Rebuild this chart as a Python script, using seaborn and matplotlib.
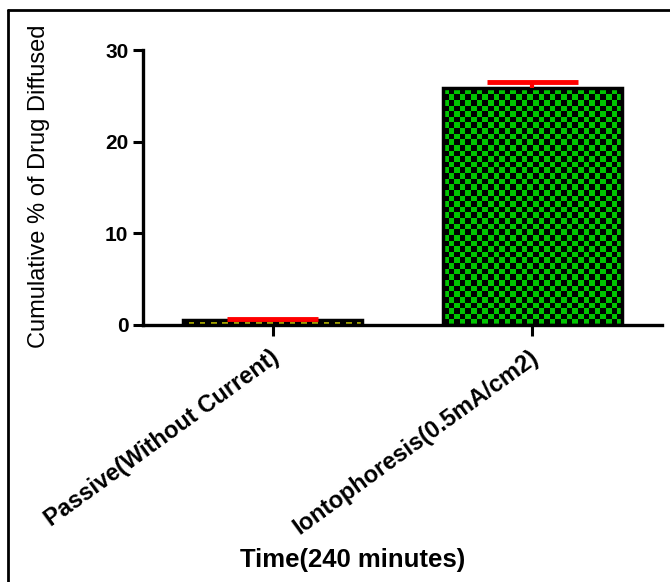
import numpy as np
import pandas as pd
import matplotlib
matplotlib.use("Agg")
import matplotlib.pyplot as plt
import matplotlib.transforms as mtransforms
from matplotlib.lines import Line2D
from matplotlib.colors import ListedColormap
import seaborn as sns

categories = ["Passive(Without Current)", "Iontophoresis(0.5mA/cm2)"]
values = [0.55, 25.9]
errors = [0.1, 0.6]
yticks = [0, 10, 20, 30]
ylabel = "Cumulative % of Drug Diffused"
xlabel = "Time(240 minutes)"
fills = [("#d2d200", "#000000"), ("#00c400", "#000000")]

sns.set_theme(style="ticks")
plt.rcParams["font.family"] = ["Liberation Sans", "DejaVu Sans"]
plt.rcParams["text.color"] = "black"
plt.rcParams["axes.labelcolor"] = "black"
plt.rcParams["xtick.color"] = "black"
plt.rcParams["ytick.color"] = "black"
plt.rcParams["axes.edgecolor"] = "black"

df = pd.DataFrame({"cat": categories, "val": values})

fig = plt.figure(figsize=(6.70, 5.82), dpi=100)
ax = fig.add_axes([143/670, 1-325/582, (662-143)/670, (325-50)/582])

sns.barplot(data=df, x="cat", y="val", ax=ax, width=0.69, color="black",
            edgecolor="black", linewidth=2.5, errorbar=None, zorder=3)
ax.set_xlim(-0.5, 1.5)
ax.set_ylim(0, 30)
ax.set_yticks(yticks)
ax.set_yticklabels([str(t) for t in yticks], fontweight="bold", fontsize=15,
                   color="black")

# checkerboard fills clipped to bars
cell_px = 5.6
fig.canvas.draw()
for patch, (c1, c2) in zip(ax.patches, fills):
    x0 = patch.get_x()
    w = patch.get_width()
    bb = patch.get_window_extent()
    nx = max(1, int(round(bb.width / cell_px)))
    ny = max(1, int(round(ax.bbox.height / cell_px)))
    yy, xx = np.mgrid[0:ny, 0:nx]
    board = (xx + yy) % 2
    cmap = ListedColormap([c2, c1])
    im = ax.imshow(board, cmap=cmap, extent=(x0, x0 + w, 0, 30),
                   origin="lower", interpolation="nearest", aspect="auto", zorder=2)
    im.set_clip_path(patch)
    patch.set_facecolor("none")
ax.set_xlim(-0.5, 1.5)
ax.set_ylim(0, 30)

# error bars (upper only), red
pos = np.arange(len(categories))
capw = 0.35
for p, v, e in zip(pos, values, errors):
    ax.vlines(p, v, v + e, color="red", lw=3, zorder=4)
    ax.hlines(v + e, p - capw/2, p + capw/2, color="red", lw=3.5, zorder=4)

sns.despine(ax=ax)
for s in ["left", "bottom"]:
    ax.spines[s].set_linewidth(2.4)
    ax.spines[s].set_color("black")
ax.tick_params(axis="both", width=2.2, length=7, color="black", labelcolor="black",
               direction="out")
ax.tick_params(axis="x", length=8)

ax.set_xlabel("")
ax.set_ylabel("")
ax.set_xticks(pos)
labels = ax.set_xticklabels(categories, rotation=36, ha="right", va="center",
                            rotation_mode="anchor", fontweight="bold", fontsize=17,
                            color="black")
offset = mtransforms.ScaledTranslation(4/100, -14/100, fig.dpi_scale_trans)
for lab in labels:
    lab.set_transform(lab.get_transform() + offset)

fig.text(353/670, 1-560/582, xlabel, ha="center", va="center",
         fontweight="bold", fontsize=18.5, color="black")
fig.text(39/670, 1-186/582, ylabel, ha="center", va="center", rotation=90,
         fontsize=17, color="black")

# page border (left and top)
fig.add_artist(Line2D([8/670, 8/670], [0, 1-10/582], transform=fig.transFigure,
                      color="black", lw=2))
fig.add_artist(Line2D([8/670, 1], [1-10/582, 1-10/582], transform=fig.transFigure,
                      color="black", lw=2))

fig.savefig("out.png", dpi=100)
